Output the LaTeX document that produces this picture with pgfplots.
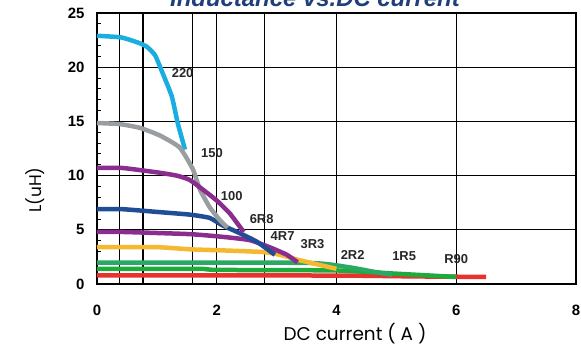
\documentclass[border=0pt]{standalone}
\usepackage{fontspec}
\setmainfont{Liberation Sans}
\newfontfamily\labfont{Poppins}
\usepackage{pgfplots}
\pgfplotsset{compat=1.18}
\definecolor{cCyan}{HTML}{1AAEE0}
\definecolor{cGray}{HTML}{9A9EA1}
\definecolor{cPurp}{HTML}{8B2C8F}
\definecolor{cBlue}{HTML}{1F4E96}
\definecolor{cYel}{HTML}{F5B830}
\definecolor{cTeal}{HTML}{2AA866}
\definecolor{cGreen}{HTML}{1EAA3C}
\definecolor{cRed}{HTML}{E8322E}
\definecolor{cTitle}{HTML}{1F3E7A}
\begin{document}
\begin{tikzpicture}
\begin{axis}[
  at={(0,0)}, anchor=south west,
  scale only axis, width=479bp, height=271bp,
  xmin=0, xmax=8, ymin=0, ymax=25,
  xtick={0,2,4,6,8}, ytick={0,5,10,15,20,25},
  minor y tick num=4,
  xmajorgrids, ymajorgrids,
  major grid style={black, line width=1.3bp},
  axis line style={black, line width=1.3bp},
  tick align=inside, ytick pos=left, xtick pos=bottom,
  xtick style={draw=none},
  ytick style={black, line width=0.9bp},
  major tick length=4bp, minor tick length=4bp,
  extra x ticks={0.37,0.77,1.6,2.8},
  extra x tick labels={},
  extra x tick style={grid=major, tick style={draw=none}},
  xticklabel style={font=\fontsize{15}{16}\selectfont\bfseries, yshift=-18bp},
  yticklabel style={font=\fontsize{15}{16}\selectfont\bfseries, xshift=-9bp},
  /pgf/number format/assume math mode=true,
  clip=false,
  every axis plot/.append style={line width=4.5bp, line join=round, smooth, tension=0.3},
]
% 220
\addplot[cCyan] coordinates {(0,22.9) (0.4,22.75) (0.67,22.3) (0.83,21.9) (0.97,21.1) (1.1,19.4) (1.25,17.3) (1.35,14.8) (1.47,12.4)};
% R90
\addplot[cRed] coordinates {(0,0.8) (4,0.78) (5.3,0.7) (6.5,0.65)};
% 1R5
\addplot[cGreen] coordinates {(0,1.4) (1.7,1.4) (2.0,1.3) (4.0,1.25) (5.0,0.95) (6.0,0.65)};
% 2R2
\addplot[cTeal] coordinates {(0,1.97) (3.5,1.95) (4.2,1.55) (4.6,1.15) (4.93,0.85)};
% 3R3
\addplot[cYel] coordinates {(0,3.4) (1.0,3.4) (1.55,3.2) (2.1,3.1) (2.77,2.95) (3.05,2.7) (3.38,2.2) (4.0,1.4)};
% 4R7
\addplot[cPurp] coordinates {(0,4.8) (0.43,4.8) (1.55,4.6) (2.1,4.35) (2.55,4.05) (2.88,3.4) (3.17,2.7) (3.35,2.0)};
% 6R8
\addplot[cBlue] coordinates {(0,6.9) (0.43,6.9) (1.0,6.65) (1.55,6.4) (1.88,6.1) (2.1,5.4) (2.38,4.7) (2.67,3.9) (2.97,2.7)};
% 150
\addplot[cGray] coordinates {(0,14.85) (0.38,14.75) (0.72,14.4) (1.05,13.7) (1.38,12.6) (1.6,10.6) (1.72,8.7) (1.88,7.1) (2.05,5.9) (2.18,5.2)};
% 100
\addplot[cPurp] coordinates {(0,10.7) (0.43,10.7) (1.0,10.3) (1.33,10.0) (1.55,9.6) (1.77,8.7) (2.0,7.7) (2.22,6.5) (2.45,4.8)};
\begin{scope}[every node/.style={font=\fontsize{13}{14}\selectfont\bfseries, text=black!85}]
\node at (axis cs:1.43,19.5) {220};
\node at (axis cs:1.92,12.1) {150};
\node at (axis cs:2.25,8.1) {100};
\node at (axis cs:2.75,6.0) {6R8};
\node at (axis cs:3.1,4.4) {4R7};
\node at (axis cs:3.6,3.7) {3R3};
\node at (axis cs:4.27,2.7) {2R2};
\node at (axis cs:5.13,2.6) {1R5};
\node at (axis cs:6.0,2.3) {R90};
\end{scope}
\end{axis}
\node[anchor=base, font=\fontsize{24}{26}\selectfont\bfseries\itshape, text=cTitle] at (218bp,277.5bp) {Inductance vs.DC current};
\node[font=\labfont\fontsize{18.5}{20}\selectfont] at (258bp,-50bp) {DC current ( A )};
\node[font=\labfont\fontsize{17}{18}\selectfont, rotate=90] at (-62bp,94bp) {L(uH)};
\pgfresetboundingbox
\useasboundingbox (-97bp,-63bp) rectangle (484bp,284bp);
\end{tikzpicture}
\end{document}
